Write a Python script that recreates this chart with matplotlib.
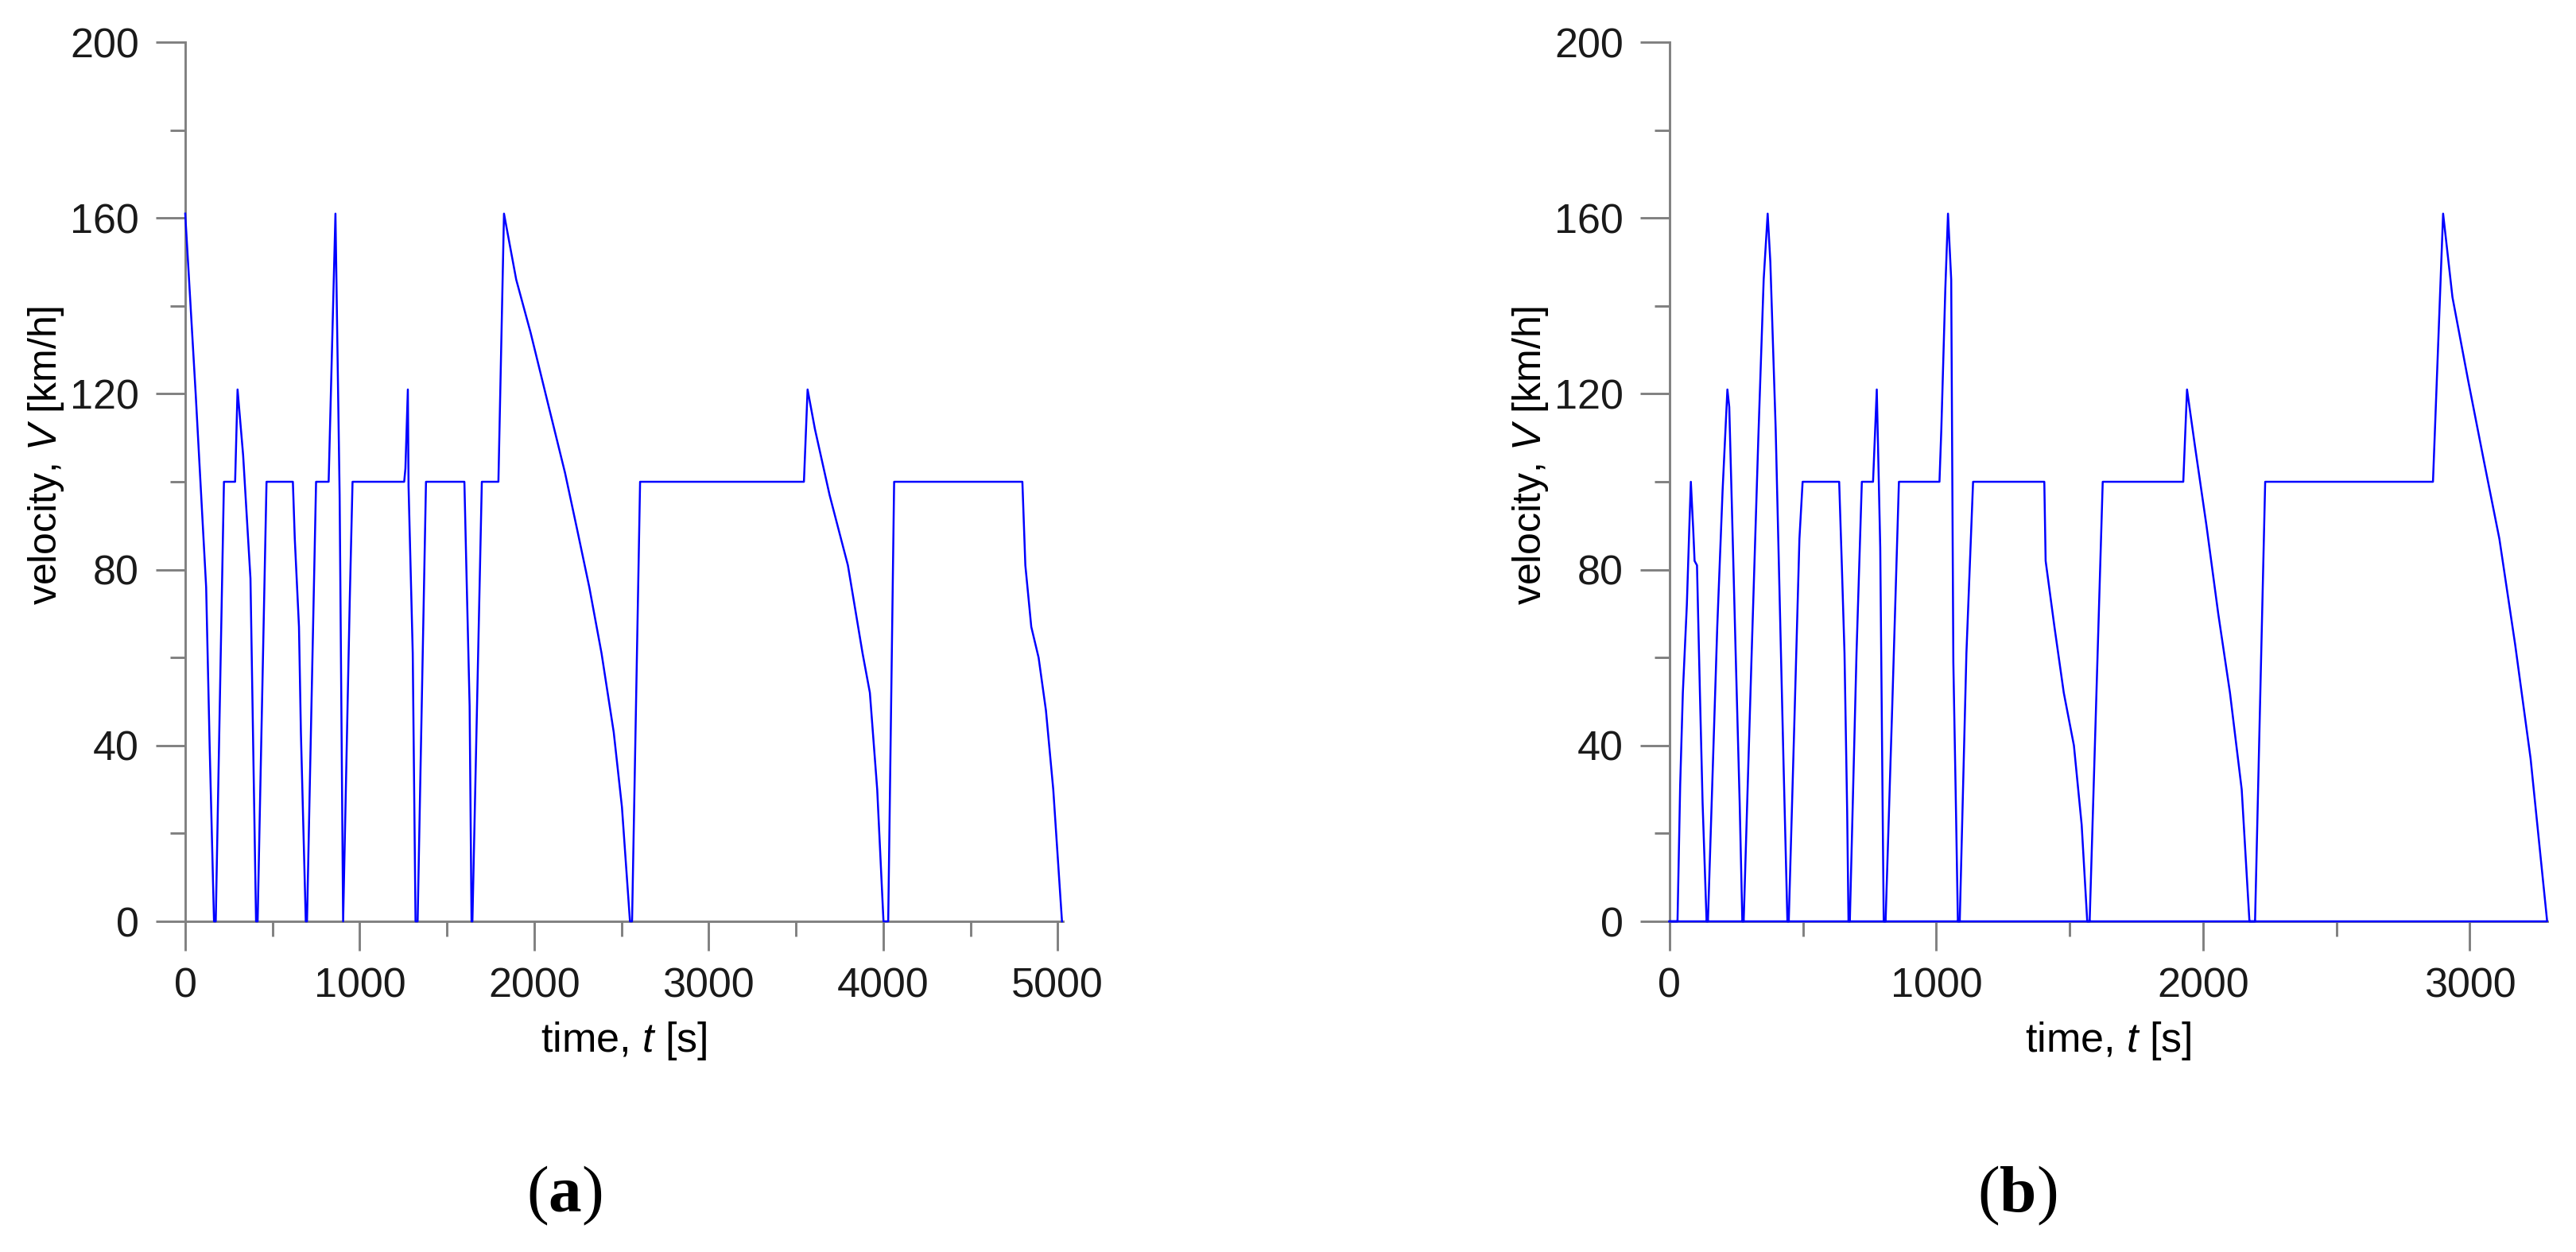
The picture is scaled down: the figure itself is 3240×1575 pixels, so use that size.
import matplotlib
matplotlib.use('Agg')
import matplotlib.pyplot as plt
from matplotlib.ticker import MultipleLocator

# (a) long driving cycle: time [s] and velocity [km/h] breakpoints
time_a = [0, 60, 120, 140, 165, 175, 222, 286, 300, 332, 374, 406, 415, 466,
          617, 628, 652, 663, 691, 698, 750, 822, 861, 885, 905, 943, 959,
          1255, 1262, 1276, 1280, 1304, 1320, 1332, 1380, 1600, 1611, 1630,
          1641, 1646, 1700, 1795, 1827, 1897, 1979, 2084, 2177, 2247, 2316,
          2386, 2456, 2503, 2549, 2561, 2607, 3546, 3567, 3609, 3693, 3798,
          3882, 3924, 3966, 4002, 4029, 4063, 4798, 4815, 4849, 4891, 4933,
          4975, 5025]
vel_a = [161, 120, 76, 40, 0, 0, 100, 100, 121, 106, 78, 0, 0, 100,
         100, 87, 67, 43, 0, 0, 100, 100, 161, 97, 0, 73, 100,
         100, 103, 121, 99, 61, 0, 0, 100, 100, 81, 49,
         0, 0, 100, 100, 161, 146, 134, 117, 102, 89, 76,
         61, 43, 26, 0, 0, 100, 100, 121, 112, 97, 81,
         61, 52, 30, 0, 0, 100, 100, 81, 67, 60, 48,
         30, 0]

# (b) shorter cycle; the trace returns to t = 0 along the axis
time_b = [0, 30, 40, 50, 65, 75, 80, 89, 94, 103, 114, 124, 139, 144, 179,
          199, 217, 224, 234, 248, 263, 273, 278, 308, 333, 353, 368, 378,
          398, 412, 427, 442, 447, 467, 487, 499, 636, 646, 656, 666, 671,
          676, 701, 721, 763, 777, 790, 800, 803, 810, 835, 860, 1012, 1019,
          1034, 1044, 1056, 1064, 1074, 1081, 1088, 1113, 1138, 1405, 1410,
          1443, 1478, 1516, 1545, 1566, 1575, 1624, 1926, 1940, 1970, 2013,
          2057, 2101, 2145, 2174, 2195, 2233, 2862, 2900, 2935, 2994, 3052,
          3111, 3170, 3228, 3290, 0]
vel_b = [0, 0, 31, 52, 72, 91, 100, 89, 82, 81, 52, 27, 0, 0, 67,
         98, 121, 117, 94, 61, 27, 0, 0, 61, 110, 146, 161, 150,
         112, 76, 37, 0, 0, 43, 87, 100, 100, 81, 61, 25, 0,
         0, 61, 100, 100, 121, 85, 19, 0, 0, 49, 100, 100, 112,
         144, 161, 146, 59, 25, 0, 0, 61, 100, 100, 82,
         67, 52, 40, 22, 0, 0, 100, 100, 121, 108, 90,
         70, 52, 30, 0, 0, 100, 100, 161, 142, 123, 105,
         87, 63, 37, 0, 0]

x_limits = [5030, 3290]
panel_tags = ['a', 'b']

plt.rcParams['font.family'] = 'Liberation Sans'
plt.rcParams['mathtext.fontset'] = 'custom'
plt.rcParams['mathtext.it'] = 'Liberation Sans:italic'
plt.rcParams['mathtext.bf'] = 'Liberation Serif:bold'

AXIS_GREY = '#808080'


def style_axes(ax, xmax):
    ax.set_xlim(0, xmax)
    ax.set_ylim(0, 200)
    ax.xaxis.set_major_locator(MultipleLocator(1000))
    ax.xaxis.set_minor_locator(MultipleLocator(500))
    ax.yaxis.set_major_locator(MultipleLocator(40))
    ax.yaxis.set_minor_locator(MultipleLocator(20))

    for side in ['top', 'right']:
        ax.spines[side].set_visible(False)
    for side in ['left', 'bottom']:
        ax.spines[side].set_color(AXIS_GREY)
        ax.spines[side].set_linewidth(0.7)

    ax.tick_params(which='major', direction='out', length=8.9, width=0.7,
                   color=AXIS_GREY, labelsize=12.5, labelcolor='#1a1a1a',
                   pad=5)
    ax.tick_params(which='minor', direction='out', length=4.6, width=0.7,
                   color=AXIS_GREY)

    ax.set_xlabel(r'time, $t$ [s]', fontsize=12.5, labelpad=4)
    ax.set_ylabel(r'velocity, $V$ [km/h]', fontsize=12)
    ax.yaxis.set_label_coords(-0.136, 0.53)


def main():
    fig = plt.figure(figsize=(10.8, 5.25), dpi=300)

    ax_a = fig.add_axes([0.0719, 0.2641, 0.3407, 0.7022])
    ax_b = fig.add_axes([0.6481, 0.2641, 0.3407, 0.7022])

    for ax, t, v, xmax in zip([ax_a, ax_b], [time_a, time_b],
                              [vel_a, vel_b], x_limits):
        ax.plot(t, v, color='#0000ff', linewidth=0.6, zorder=3,
                clip_on=False)
        style_axes(ax, xmax)

    # panel tags under each chart
    for xpos, tag in zip([0.219, 0.783], panel_tags):
        fig.text(xpos, 0.045, r'($\mathbf{%s}$)' % tag,
                 family='Liberation Serif', fontsize=20,
                 ha='center', va='center')

    fig.savefig('out.png', dpi=300)


if __name__ == '__main__':
    main()
